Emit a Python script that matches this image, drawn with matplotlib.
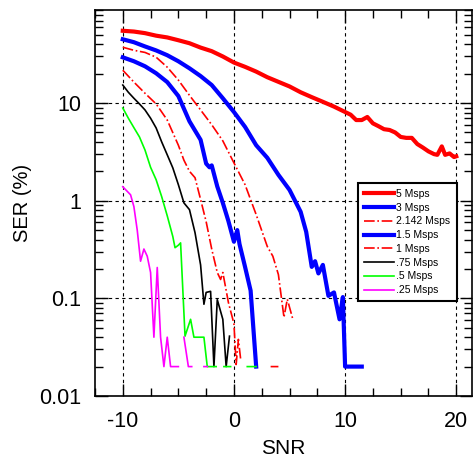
import numpy as np
import matplotlib
matplotlib.use("Agg")
import matplotlib.pyplot as plt

nan = np.nan

# ---- data (SNR in dB, SER in %) ----
snr_5 = [-10, -9, -8, -7, -6, -5, -4, -3, -2, -1, 0, 1, 2, 3, 4, 5, 6, 7, 8, 9, 10,
         10.5, 11, 11.5, 12, 12.5, 13, 13.5, 14, 14.5, 15, 15.5, 16, 16.5, 17, 17.5,
         18, 18.3, 18.7, 19, 19.4, 19.8, 20]
ser_5 = [55, 54, 52, 49, 47, 44, 41, 37, 34, 30, 26, 23.5, 21, 18.4, 16.5, 14.8, 12.9,
         11.5, 10.3, 9.2, 8.1, 7.6, 6.7, 6.7, 7.2, 6.2, 5.8, 5.4, 5.3, 5.0, 4.5, 4.4,
         4.4, 3.8, 3.5, 3.2, 3.0, 2.95, 3.6, 2.95, 3.05, 2.8, 2.85]

snr_3 = [-10, -9, -8, -7, -6, -5, -4, -3, -2, -1, 0, 1, 2, 3, 4, 5, 6, 6.5, 7, 7.3,
         7.6, 8, 8.5, 9, 9.5, 9.8, 10, 11.5]
ser_3 = [45, 42, 38, 34.6, 30.9, 26.8, 22.7, 18.9, 15.3, 11.2, 8.1, 5.7, 3.7, 2.75,
         1.84, 1.29, 0.77, 0.48, 0.21, 0.24, 0.18, 0.22, 0.106, 0.115, 0.061, 0.103,
         0.02, 0.02]

snr_2142 = [-10, -9, -8, -7, -6, -5, -4, -3, -2, -1, 0, 1, 2, 3, 3.5, 4, 4.5, 4.8, 5.3]
ser_2142 = [37.3, 34.7, 33, 29.5, 23.3, 17.2, 12.0, 8.5, 6.0, 4.1, 2.44, 1.46, 0.72,
            0.34, 0.27, 0.175, 0.064, 0.098, 0.061]

snr_15 = [-10, -9, -8, -7, -6, -5, -4, -3, -2.5, -2.2, -2, -1.5, -1, -0.5, 0, 0.3,
          0.5, 1, 1.5, 2]
ser_15 = [29.4, 26.8, 23.8, 20.2, 16.4, 11.8, 6.5, 4.2, 2.4, 2.2, 2.3, 1.4, 0.95,
          0.62, 0.38, 0.50, 0.36, 0.21, 0.12, 0.02]

snr_1 = [-10, -9, -8, -7, -6, -5, -4.5, -4, -3.5, -3, -2.5, -2, -1.5, -1.2, -1, -0.5,
         0, 0.2, 0.4, 0.6, 1.0, 3.3, 4.0]
ser_1 = [21.7, 16.4, 12.6, 9.8, 6.7, 3.7, 2.6, 2.0, 1.72, 1.03, 0.61, 0.32, 0.184,
         0.156, 0.184, 0.091, 0.055, 0.021, 0.038, 0.024, nan, 0.02, 0.02]

snr_075 = [-10, -9.5, -9, -8.5, -8, -7.5, -7, -6.5, -6, -5.5, -5, -4.5, -4, -3.5, -3,
           -2.7, -2.5, -2.1, -1.8, -1.5, -1, -0.7, -0.4]
ser_075 = [15.3, 12.9, 11.2, 9.8, 8.5, 7.0, 5.56, 4.0, 2.95, 2.17, 1.46, 0.95, 0.81,
           0.47, 0.22, 0.087, 0.115, 0.118, 0.02, 0.097, 0.061, 0.02, 0.041]

snr_05 = [-10, -9.5, -9, -8.5, -8, -7.5, -7, -6.5, -6, -5.5, -5.3, -5, -4.8, -4.4,
          -3.9, -3.6, -2.7, -2.4, -1.6, -1.2, -0.9, -0.3, 0.5, 1.2, 2.0]
ser_05 = [8.9, 7.0, 5.6, 4.5, 3.3, 2.2, 1.64, 1.1, 0.70, 0.43, 0.33, 0.35, 0.37, 0.041,
          0.061, 0.040, 0.040, 0.02, 0.02, nan, 0.02, 0.02, nan, 0.02, 0.02]

snr_025 = [-10, -9.3, -9, -8.7, -8.4, -8.1, -7.8, -7.5, -7.2, -6.9, -6.6, -6.3, -6.0,
           -5.7, -5.0, -4.8, -4.5, -4.1, -3.8, -3.2, -2.7, -2.4]
ser_025 = [1.39, 1.15, 0.87, 0.50, 0.24, 0.32, 0.27, 0.184, 0.040, 0.207, 0.040, 0.02,
           0.040, 0.02, 0.02, nan, 0.040, 0.02, 0.02, nan, 0.02, 0.02]

series = [
    (snr_5, ser_5, "5 Msps", "#ff0000", "-", 3.0),
    (snr_3, ser_3, "3 Msps", "#0000ff", "-", 3.0),
    (snr_2142, ser_2142, "2.142 Msps", "#ff0000", "-.", 1.2),
    (snr_15, ser_15, "1.5 Msps", "#0000ff", "-", 3.0),
    (snr_1, ser_1, "1 Msps", "#ff0000", "-.", 1.2),
    (snr_075, ser_075, ".75 Msps", "#000000", "-", 1.2),
    (snr_05, ser_05, ".5 Msps", "#00ff00", "-", 1.2),
    (snr_025, ser_025, ".25 Msps", "#ff00ff", "-", 1.2),
]

plt.rcParams["font.family"] = ["Liberation Sans", "DejaVu Sans"]
plt.rcParams["axes.unicode_minus"] = False

fig = plt.figure(figsize=(4.74, 4.58), dpi=100)
ax = fig.add_axes([0.2004, 0.1354, 0.795, 0.843])

for x, y, lab, c, ls, lw in series:
    ax.plot(x, y, color=c, linestyle=ls, linewidth=lw, label=lab)

ax.set_yscale("log")
ax.set_xlim(-12.4, 21.4)
ax.set_ylim(0.01, 90)
ax.set_xticks([-10, 0, 10, 20])
ax.set_xticks(np.arange(-12.5, 21.5, 2.5), minor=True)
ax.set_yticks([0.01, 0.1, 1, 10])
ax.set_yticklabels(["0.01", "0.1", "1", "10"])

ax.grid(True, which="major", color="k", linestyle=(0, (3, 3)), linewidth=0.8)
ax.tick_params(which="both", direction="in", top=True, right=True, labelsize=15.5,
               width=1)
ax.tick_params(which="major", length=9)
ax.tick_params(axis="y", which="major", pad=10)
ax.tick_params(axis="x", which="major", pad=11)
ax.tick_params(which="minor", length=5.5)
for s in ax.spines.values():
    s.set_linewidth(1.2)

ax.set_xlabel("SNR", fontsize=15, labelpad=5)
ax.set_ylabel("SER (%)", fontsize=14.5, labelpad=5)

leg = ax.legend(loc="upper left", bbox_to_anchor=(0.684, 0.566), fontsize=7.5,
                handlelength=2.9, handletextpad=0.2, labelspacing=0.36,
                borderpad=0.6, fancybox=False, framealpha=1, edgecolor="k")
leg.get_frame().set_linewidth(1.5)

fig.savefig("out.png", dpi=100)
